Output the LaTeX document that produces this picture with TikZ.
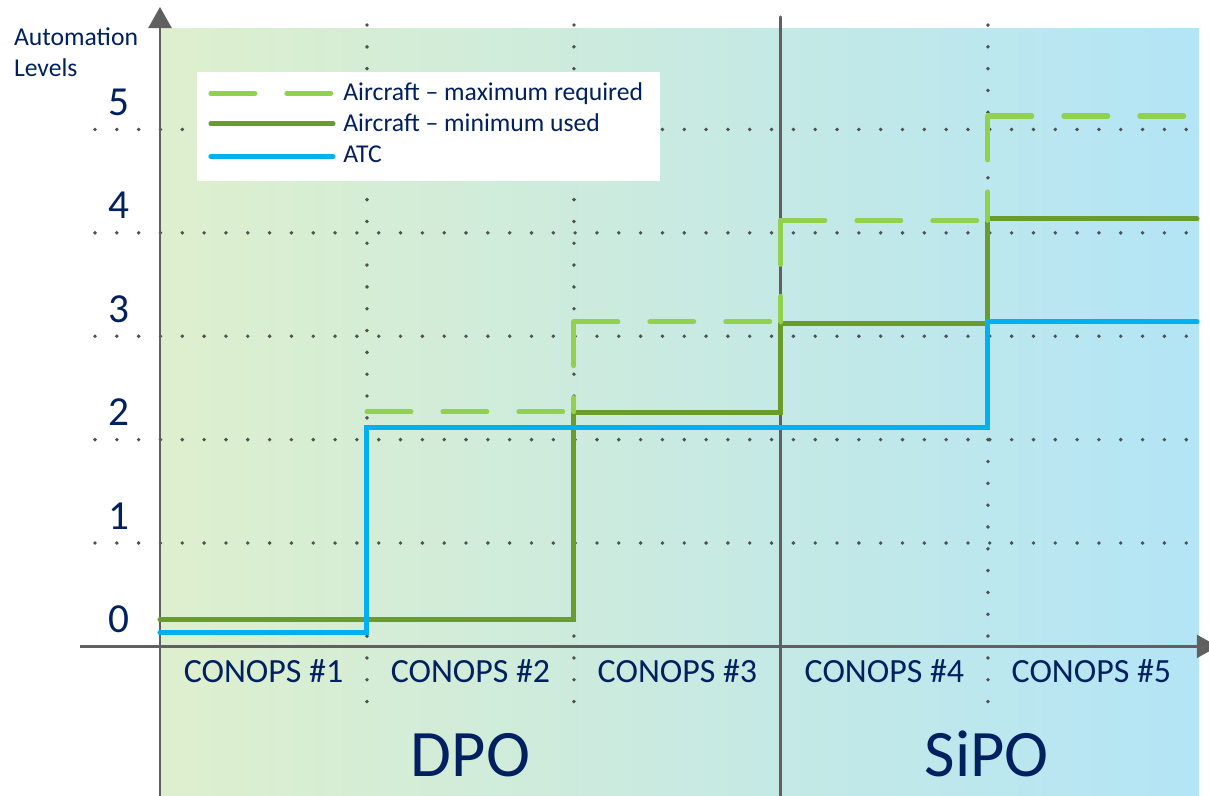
\documentclass[tikz,border=0pt]{standalone}
\usepackage{fontspec}
\setmainfont{Carlito}
\usetikzlibrary{arrows.meta}

\definecolor{navy}{HTML}{002060}
\definecolor{maxgreen}{HTML}{92D050}
\definecolor{mingreen}{HTML}{6A9C2C}
\definecolor{atcblue}{HTML}{00B0F0}
\definecolor{axisgray}{HTML}{606060}
\definecolor{dotgray}{HTML}{505050}
\definecolor{bgleft}{HTML}{DEEFCD}
\definecolor{bgright}{HTML}{B3E5F6}

\tikzset{
  grid dots/.style={draw=dotgray,line width=2.2pt,line cap=round,dash pattern=on 0pt off 12.42pt},
  axis line/.style={draw=axisgray,line width=1.7pt},
  max line/.style={draw=maxgreen,line width=2.85pt,line cap=round,dash pattern=on 25pt off 18.2pt},
  min line/.style={draw=mingreen,line width=2.85pt,line cap=round},
  atc line/.style={draw=atcblue,line width=2.85pt,line cap=round},
  level label/.style={text=navy,anchor=base,inner sep=0pt,font=\fontsize{23.5}{28}\selectfont},
  conops label/.style={text=navy,anchor=base,inner sep=0pt,font=\fontsize{19.3}{23}\selectfont},
  phase label/.style={text=navy,anchor=base,inner sep=0pt,font=\fontsize{37.8}{44}\selectfont},
  legend text/.style={text=navy,anchor=base west,inner sep=0pt,font=\fontsize{14.6}{17.6}\selectfont}
}

\begin{document}
\begin{tikzpicture}[x=4.14cm,y=2.068cm]
    \clip (-0.773,-1.446) rectangle (5.068,6.252) ;
    \shade[left color=bgleft,right color=bgright] (0,-1.446) rectangle (5.019,5.972) ;

    % dotted grid
    \foreach \l in {1,...,5}
      \draw[grid dots] (-0.314,\l) -- (4.961,\l) ;
    \foreach \c in {1,2,4}
      \draw[grid dots] (\c,6.010) -- (\c,-0.546) ;

    % axes
    \draw[axis line,-{Triangle[length=12pt,width=13pt]}] (0,-1.446) -- (0,6.185) ;
    \draw[axis line,-{Triangle[length=12pt,width=13pt]}] (-0.386,0) -- (5.111,0) ;
    \draw[axis line,line cap=round] (3,-1.446) -- (3,6.089) ;

    % levels
    \draw[min line] (0,0.256) -- (2,0.256) -- (2,2.258) -- (3,2.258) -- (3,3.119) -- (4,3.119) -- (4,4.134) -- (5.01,4.134) ;
    \draw[atc line] (0,0.131) -- (1,0.131) -- (1,2.118) -- (4,2.118) -- (4,3.138) -- (5.01,3.138) ;
    \draw[max line] (1,2.27) -- (2,2.27) ;
    \foreach \c/\lo/\hi/\n in {2/2.27/3.14/3,3/3.14/4.12/4,4/4.12/5.13/4.99} {
      \draw[max line] (\c,\hi) -- (\c,\lo) ;
      \draw[max line] (\c,\hi) -- (\n,\hi) ;
    }

    % legend
    \node[fill=white,inner sep=0pt,minimum width=9.26cm,minimum height=2.18cm] (legend) at (1.297,5.029) {} ;
    \draw[max line] (0.246,5.350) -- (0.836,5.350) ;
    \draw[min line] (0.246,5.053) -- (0.836,5.053) ;
    \draw[atc line] (0.246,4.737) -- (0.836,4.737) ;
    \node[legend text] (legmax) at (0.884,5.276) {Aircraft – maximum required} ;
    \node[legend text] (legmin) at (0.884,4.979) {Aircraft – minimum used} ;
    \node[legend text] (legatc) at (0.884,4.679) {ATC} ;

    % labels
    \node[legend text,align=left] (ylabel) at (-0.707,5.510) {Automation\\Levels} ;
    \foreach \l in {0,...,5}
      \node[level label] (lev\l) at (-0.198,\l+0.135) {\l} ;
    \foreach \i in {1,...,5}
      \node[conops label] (conops\i) at (\i-0.5,-0.349) {CONOPS \#\i} ;
    \node[phase label] (dpo) at (1.5,-1.259) {DPO} ;
    \node[phase label] (sipo) at (3.994,-1.259) {SiPO} ;
  \end{tikzpicture}
\end{document}
